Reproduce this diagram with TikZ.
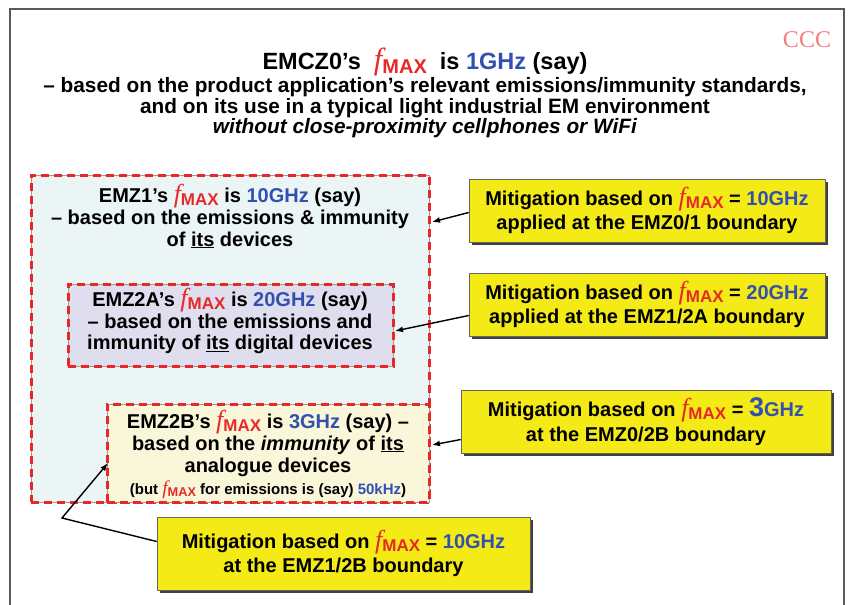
\documentclass[tikz,border=0pt]{standalone}
\usepackage{fontspec}
\setmainfont{Liberation Sans}
\newfontfamily\timesfont{Liberation Serif}
\usetikzlibrary{shadows,arrows.meta}
\definecolor{zred}{RGB}{232,40,40}
\definecolor{zblue}{RGB}{50,80,175}
\definecolor{zoneone}{RGB}{236,245,245}
\definecolor{zonetwoa}{RGB}{222,222,238}
\definecolor{zonetwob}{RGB}{250,246,218}
\definecolor{mitiyellow}{RGB}{244,234,22}
\newcommand{\fmax}{{\color{zred}{\timesfont\mdseries\itshape\scalebox{1.3}{f}}\raisebox{-0.3ex}{\scalebox{0.85}{MAX}}}}
\newcommand{\ghz}[1]{\textcolor{zblue}{#1}}
\begin{document}
\begin{tikzpicture}[x=1pt,y=-1pt,font=\bfseries\fontsize{20}{22}\selectfont,
 zone/.style={draw=gray!80,line width=0.8pt,anchor=north west,inner sep=0pt,
  postaction={draw=zred,dash pattern=on 8pt off 5pt,line width=2.4pt}},
 miti/.style={draw=black!60,line width=0.6pt,fill=mitiyellow,align=center,
  minimum width=356pt,minimum height=63pt,inner sep=0pt,
  font=\bfseries\fontsize{20}{24.5}\selectfont,
  drop shadow={shadow xshift=3pt,shadow yshift=-3pt,fill=black!75,opacity=1}},
 label/.style={align=center,inner sep=0pt},
 pointer/.style={-{Latex[length=8pt,width=6pt]},line width=1.4pt}]
 \useasboundingbox (0,0) rectangle (849,605);
 % frame
 \draw[black!65,line width=1.5pt] (10,605) -- (10,9) -- (844,9) -- (844,605);
 \node[font=\timesfont\mdseries\fontsize{24}{24}\selectfont,text=zred!60] (ccc) at (807,40) {CCC};
 % heading
 \node[label,font=\bfseries\fontsize{23.5}{26}\selectfont] (title) at (425,62) {EMCZ0’s \ \fmax\ \ is \ghz{1GHz} (say)};
 \node[label,font=\bfseries\fontsize{20.8}{20.5}\selectfont] (subtitle) at (425,108) {– based on the product application’s relevant emissions/immunity standards,\\and on its use in a typical light industrial EM environment\\\textit{without close-proximity cellphones or WiFi}};
 % zones
 \node[zone,fill=zoneone,minimum width=398pt,minimum height=327pt] (emzone1) at (31,175) {};
 \node[zone,fill=zonetwoa,minimum width=325pt,minimum height=82pt] (emzone2a) at (68,284) {};
 \node[zone,fill=zonetwob,minimum width=322pt,minimum height=98pt] (emzone2b) at (107,404) {};
 \node[label] (emztext1) at (230,216) {EMZ1’s \fmax\ is \ghz{10GHz} (say)\\– based on the emissions \& immunity\\of \underline{its} devices};
 \node[label,font=\bfseries\fontsize{20}{21.5}\selectfont] (emztext2a) at (230,321) {EMZ2A’s \fmax\ is \ghz{20GHz} (say)\\– based on the emissions and\\immunity of \underline{its} digital devices};
 \node[label] (emztext2b) at (268,454) {EMZ2B’s \fmax\ is \ghz{3GHz} (say) –\\based on the \textit{immunity} of \underline{its}\\analogue devices\\{\fontsize{15}{18}\selectfont (but \fmax\ for emissions is (say) \ghz{50kHz})}};
 % mitigation boxes
 \node[miti] (mitione) at (647,210.5) {Mitigation based on \fmax\ = \ghz{10GHz}\\applied at the EMZ0/1 boundary};
 \node[miti] (mititwo) at (647,304.5) {Mitigation based on \fmax\ = \ghz{20GHz}\\applied at the EMZ1/2A boundary};
 \node[miti,minimum width=370pt] (mitithree) at (646,421.5) {Mitigation based on \fmax\ = \ghz{{\fontsize{27}{24}\selectfont 3}GHz}\\at the EMZ0/2B boundary};
 \node[miti,minimum width=373pt,minimum height=73pt] (mitifour) at (343.5,553.5) {Mitigation based on \fmax\ = \ghz{10GHz}\\at the EMZ1/2B boundary};
 % pointers
 \coordinate (tipone) at (432,222);
 \coordinate (tiptwo) at (395,331);
 \coordinate (tipthree) at (432,445);
 \coordinate (bendfour) at (62,518);
 \coordinate (tipfour) at (108,463);
 \draw[pointer] ([yshift=-2pt]mitione.west) -- (tipone);
 \draw[pointer] ([yshift=-11pt]mititwo.west) -- (tiptwo);
 \draw[pointer] ([yshift=-18pt]mitithree.west) -- (tipthree);
 \draw[pointer] ([yshift=12pt]mitifour.west) -- (bendfour) -- (tipfour);
\end{tikzpicture}
\end{document}
